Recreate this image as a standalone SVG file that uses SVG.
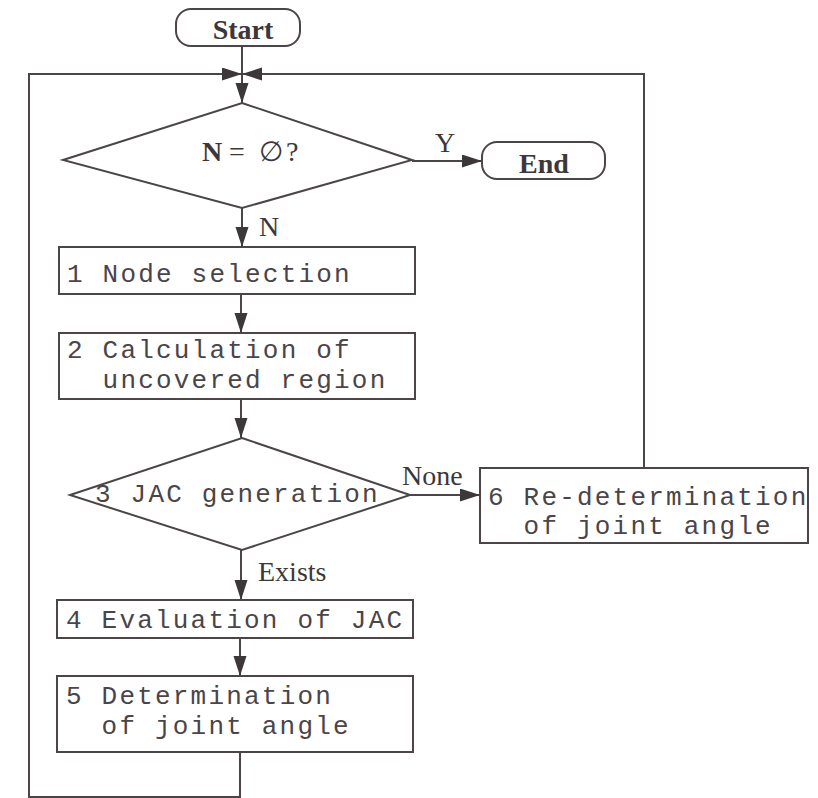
<svg xmlns="http://www.w3.org/2000/svg" width="818" height="798" viewBox="0 0 818 798">
<style>
.sh{fill:#fff;stroke:#4b4548;stroke-width:2}
.ln{fill:none;stroke:#4b4548;stroke-width:2}
.mono{font-family:"Liberation Mono","Courier New",monospace;font-size:26px;letter-spacing:2.2px;fill:#4a4548}
.ser{font-family:"Liberation Serif","Times New Roman",serif;font-size:28px;fill:#3d3739}
.b{font-weight:bold}
</style>
<defs>
<marker id="ah" markerUnits="userSpaceOnUse" markerWidth="22" markerHeight="14" refX="20" refY="6.5" orient="auto">
<path d="M0,0 L20,6.5 L0,13 z" fill="#3d3739"/>
</marker>
</defs>
<rect width="818" height="798" fill="#fff"/>
<g id="connectors">
<line class="ln" x1="242" y1="47" x2="242" y2="74"/>
<path class="ln" d="M240,752 V797 H29 V74 H242" marker-end="url(#ah)"/>
<path class="ln" d="M644,468 V74 H242" marker-end="url(#ah)"/>
<line class="ln" x1="242" y1="74" x2="242" y2="103" marker-end="url(#ah)"/>
<line class="ln" x1="412" y1="161" x2="482" y2="161" marker-end="url(#ah)"/>
<line class="ln" x1="242" y1="208" x2="242" y2="247" marker-end="url(#ah)"/>
<line class="ln" x1="241" y1="294" x2="241" y2="333" marker-end="url(#ah)"/>
<line class="ln" x1="241" y1="399" x2="241" y2="438" marker-end="url(#ah)"/>
<line class="ln" x1="410" y1="495" x2="480" y2="495" marker-end="url(#ah)"/>
<line class="ln" x1="241" y1="550" x2="241" y2="600" marker-end="url(#ah)"/>
<line class="ln" x1="240" y1="638" x2="240" y2="676" marker-end="url(#ah)"/>
<text class="ser" x="435" y="152">Y</text>
<text class="ser" x="259" y="236">N</text>
<text class="ser" x="402" y="485">None</text>
<text class="ser" x="258" y="581">Exists</text>
</g>
<g id="start">
<rect class="sh" x="176" y="9" width="124" height="37" rx="15"/>
<text class="ser b" x="243" y="39" text-anchor="middle" font-size="29">Start</text>
</g>
<g id="decision1">
<polygon class="sh" points="242,103 412,160 242,208 63,160"/>
<text class="ser" x="202" y="161"><tspan class="b">N</tspan><tspan x="229">=</tspan><tspan x="259">∅</tspan><tspan x="286">?</tspan></text>
</g>
<g id="end">
<rect class="sh" x="482" y="142" width="123" height="37" rx="15"/>
<text class="ser b" x="544" y="173" text-anchor="middle" font-size="27">End</text>
</g>
<g id="node1">
<rect class="sh" x="59" y="247" width="356" height="47"/>
<text class="mono" x="67" y="282">1 Node selection</text>
</g>
<g id="node2">
<rect class="sh" x="59" y="333" width="356" height="66"/>
<text class="mono" x="67" y="358">2 Calculation of</text>
<text class="mono" x="102.6" y="388">uncovered region</text>
</g>
<g id="decision3">
<polygon class="sh" points="242,438 410,495 242,550 70,495"/>
<text class="mono" x="95" y="502">3 JAC generation</text>
</g>
<g id="node6">
<rect class="sh" x="480" y="468" width="328" height="75"/>
<text class="mono" x="488" y="505">6 Re-determination</text>
<text class="mono" x="523.6" y="534">of joint angle</text>
</g>
<g id="node4">
<rect class="sh" x="57" y="600" width="356" height="38"/>
<text class="mono" x="66" y="628">4 Evaluation of JAC</text>
</g>
<g id="node5">
<rect class="sh" x="57" y="676" width="356" height="76"/>
<text class="mono" x="66" y="704">5 Determination</text>
<text class="mono" x="101.6" y="734">of joint angle</text>
</g>
</svg>
